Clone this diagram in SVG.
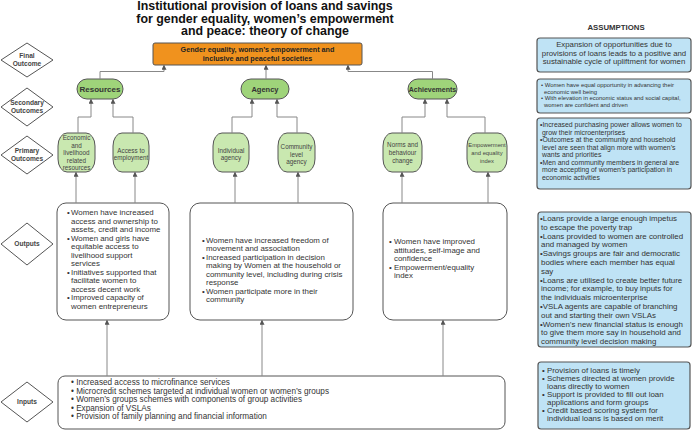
<svg xmlns="http://www.w3.org/2000/svg" width="692" height="432" viewBox="0 0 692 432">
<defs>
<marker id="ah" viewBox="0 0 6 6" refX="5" refY="3" markerWidth="5" markerHeight="5" orient="auto" markerUnits="userSpaceOnUse">
<path d="M0,0 L6,3 L0,6 z" fill="#555"/>
</marker>
<style>
text{font-family:"Liberation Sans",Arial,sans-serif;fill:#333}
.title{font-size:12.4px;font-weight:bold;fill:#111;text-anchor:middle}
.dia{fill:#fff;stroke:#555;stroke-width:1}
.dl{font-size:6.6px;font-weight:bold;fill:#444;text-anchor:middle}
.pill{fill:#9fd47a;stroke:#555;stroke-width:1}
.pl{font-weight:bold;fill:#333;text-anchor:middle}
.prim{fill:#c9e8b0;stroke:#555;stroke-width:1}
.ptx{font-size:6.3px;fill:#444;text-anchor:middle}
.out{fill:#fff;stroke:#555;stroke-width:1}
.ot{font-size:7.9px;fill:#333}
.asm{fill:#bfe3f5;stroke:#555;stroke-width:1.2}
.con{fill:none;stroke:#888;stroke-width:1;marker-end:url(#ah)}
</style>
</defs>
<rect width="692" height="432" fill="#fff"/>
<g id="title">
<text class="title" x="265" y="10">Institutional provision of loans and savings</text>
<text class="title" x="265" y="22.5">for gender equality, women’s empowerment</text>
<text class="title" x="265" y="35">and peace: theory of change</text>
</g>
<text x="616" y="30" style="font-size:7.8px;font-weight:bold;fill:#333;text-anchor:middle">ASSUMPTIONS</text>

<g id="lvl-final"><path class="dia" d="M1,60 L27,43 L53,60 L27,77 z"/><text class="dl" x="27" y="58">Final</text><text class="dl" x="27" y="66">Outcome</text></g>
<g id="lvl-secondary"><path class="dia" d="M1,107 L27,88 L53,107 L27,126 z"/><text class="dl" x="27" y="105">Secondary</text><text class="dl" x="27" y="113">Outcomes</text></g>
<g id="lvl-primary"><path class="dia" d="M1,155 L27,136 L53,155 L27,174 z"/><text class="dl" x="27" y="153">Primary</text><text class="dl" x="27" y="161">Outcomes</text></g>
<g id="lvl-outputs"><path class="dia" d="M1,244 L27,223 L53,244 L27,265 z"/><text class="dl" x="27" y="246">Outputs</text></g>
<g id="lvl-inputs"><path class="dia" d="M1,402 L27,382 L53,402 L27,422 z"/><text class="dl" x="27" y="404">Inputs</text></g>

<g id="final">
<rect x="153" y="43" width="209" height="22" rx="2" fill="#f0921e" stroke="#555" stroke-width="1"/>
<text x="257.5" y="52" style="font-size:7.2px;font-weight:bold;fill:#222;text-anchor:middle">Gender equality, women’s empowerment and</text>
<text x="257.5" y="61" style="font-size:7.2px;font-weight:bold;fill:#222;text-anchor:middle">inclusive and peaceful societies</text>
</g>

<g id="resources"><rect class="pill" x="77" y="79" width="46" height="20" rx="10"/><text class="pl" x="100" y="92" style="font-size:8px">Resources</text></g>
<g id="agency"><rect class="pill" x="241" y="79" width="48" height="20" rx="10"/><text class="pl" x="265" y="92" style="font-size:7.5px">Agency</text></g>
<g id="achievements"><rect class="pill" x="408" y="79" width="49" height="20" rx="10"/><text class="pl" x="432.5" y="91.5" style="font-size:7px">Achievements</text></g>

<g id="p-economic"><rect class="prim" x="58" y="133" width="37" height="39" rx="9" ry="13"/>
<text class="ptx" x="76.5" y="140">Economic</text><text class="ptx" x="76.5" y="147.5">and</text><text class="ptx" x="76.5" y="155">livelihood</text><text class="ptx" x="76.5" y="162.5">related</text><text class="ptx" x="76.5" y="170">resources</text></g>
<g id="p-access"><rect class="prim" x="113" y="133" width="36" height="39" rx="9" ry="13"/>
<text class="ptx" x="131" y="153">Access to</text><text class="ptx" x="131" y="160">employment</text></g>
<g id="p-individual"><rect class="prim" x="213" y="133" width="36" height="39" rx="9" ry="13"/>
<text class="ptx" x="231" y="153">Individual</text><text class="ptx" x="231" y="160">agency</text></g>
<g id="p-community"><rect class="prim" x="278" y="133" width="37" height="39" rx="9" ry="13"/>
<text class="ptx" x="296.5" y="149">Community</text><text class="ptx" x="296.5" y="156.5">level</text><text class="ptx" x="296.5" y="164">agency</text></g>
<g id="p-norms"><rect class="prim" x="383" y="133" width="39" height="39" rx="9" ry="13"/>
<text class="ptx" x="402.5" y="147">Norms and</text><text class="ptx" x="402.5" y="155">behaviour</text><text class="ptx" x="402.5" y="163">change</text></g>
<g id="p-empowerment"><rect class="prim" x="467" y="133" width="40" height="39" rx="9" ry="13"/>
<text class="ptx" x="487" y="147" style="font-size:5.8px">Empowerment</text><text class="ptx" x="487" y="155" style="font-size:5.8px">and equality</text><text class="ptx" x="487" y="163" style="font-size:5.8px">index</text></g>

<g id="out-resources"><rect class="out" x="57" y="203" width="112" height="117" rx="9"/>
<text class="ot" x="67" y="215">•</text><text class="ot" x="71" y="215">Women have increased</text>
<text class="ot" x="71" y="223.5">access and ownership to</text>
<text class="ot" x="71" y="232">assets, credit and income</text>
<text class="ot" x="67" y="240.5">•</text><text class="ot" x="71" y="240.5">Women and girls have</text>
<text class="ot" x="71" y="249">equitable access to</text>
<text class="ot" x="71" y="257.5">livelihood support</text>
<text class="ot" x="71" y="266">services</text>
<text class="ot" x="67" y="274.5">•</text><text class="ot" x="71" y="274.5">Initiatives supported that</text>
<text class="ot" x="71" y="283">facilitate women to</text>
<text class="ot" x="71" y="291.5">access decent work</text>
<text class="ot" x="67" y="300">•</text><text class="ot" x="71" y="300">Improved capacity of</text>
<text class="ot" x="71" y="308.5">women entrepreneurs</text>
</g>
<g id="out-agency"><rect class="out" x="190" y="203" width="163" height="117" rx="10"/>
<text class="ot" x="202" y="242.5">•</text><text class="ot" x="206" y="242.5">Women have increased freedom of</text>
<text class="ot" x="206" y="251">movement and association</text>
<text class="ot" x="202" y="259.5">•</text><text class="ot" x="206" y="259.5">Increased participation in decision</text>
<text class="ot" x="206" y="268">making by Women at the household or</text>
<text class="ot" x="206" y="276.5">community level, including during crisis</text>
<text class="ot" x="206" y="285">response</text>
<text class="ot" x="202" y="293.5">•</text><text class="ot" x="206" y="293.5">Women participate more in their</text>
<text class="ot" x="206" y="302">community</text>
</g>
<g id="out-achievements"><rect class="out" x="383" y="203" width="124" height="117" rx="10"/>
<text class="ot" x="389" y="244">•</text><text class="ot" x="394" y="244">Women have improved</text>
<text class="ot" x="394" y="252.5">attitudes, self-image and</text>
<text class="ot" x="394" y="261">confidence</text>
<text class="ot" x="389" y="269.5">•</text><text class="ot" x="394" y="269.5">Empowerment/equality</text>
<text class="ot" x="394" y="278">index</text>
</g>

<g id="inputs"><rect class="out" x="58" y="376" width="447" height="53" rx="7"/>
<text class="ot" x="71" y="385" style="font-size:8.2px">•  Increased access to microfinance services</text>
<text class="ot" x="71" y="393.5" style="font-size:8.2px">•  Microcredit schemes targeted at individual women or women’s groups</text>
<text class="ot" x="71" y="402" style="font-size:8.2px">•  Women’s groups schemes with components of group activities</text>
<text class="ot" x="71" y="410.5" style="font-size:8.2px">•  Expansion of VSLAs</text>
<text class="ot" x="71" y="419" style="font-size:8.2px">•  Provision of family planning and financial information</text>
</g>

<g id="assumption-final"><rect class="asm" x="537" y="38" width="154" height="34" rx="3"/>
<text x="614" y="47" style="font-size:7.8px;text-anchor:middle">Expansion of opportunities due to</text>
<text x="614" y="55.5" style="font-size:7.8px;text-anchor:middle">provisions of loans leads to a positive and</text>
<text x="614" y="64" style="font-size:7.8px;text-anchor:middle">sustainable cycle of upliftment for women</text>
</g>
<g id="assumption-secondary"><rect class="asm" x="537" y="79" width="154" height="34" rx="3"/>
<text x="541" y="87" style="font-size:5.9px">•  Women have equal opportunity in advancing their</text>
<text x="544" y="93.5" style="font-size:5.9px">economic well being</text>
<text x="541" y="100" style="font-size:5.9px">•  With elevation in economic status and social capital,</text>
<text x="544" y="106.5" style="font-size:5.9px">women are confident and driven</text>
</g>
<g id="assumption-primary"><rect class="asm" x="537" y="118" width="154" height="71" rx="3"/>
<text x="540" y="127" style="font-size:6.9px">•Increased purchasing power allows women to</text>
<text x="542" y="134.5" style="font-size:6.9px">grow their microenterprises</text>
<text x="540" y="142" style="font-size:6.9px">•Outcomes at the community and household</text>
<text x="542" y="149.5" style="font-size:6.9px">level are seen that align more with women’s</text>
<text x="542" y="157" style="font-size:6.9px">wants and priorities</text>
<text x="540" y="164.5" style="font-size:6.9px">•Men and community members in general are</text>
<text x="542" y="172" style="font-size:6.9px">more accepting of women’s participation in</text>
<text x="542" y="179.5" style="font-size:6.9px">economic activities</text>
</g>
<g id="assumption-outputs"><rect class="asm" x="538" y="212" width="153" height="135" rx="3"/>
<text x="540" y="221" style="font-size:7.9px">•Loans provide a large enough impetus</text>
<text x="541" y="229.8" style="font-size:7.9px">to escape the poverty trap</text>
<text x="540" y="238.6" style="font-size:7.9px">•Loans provided to women are controlled</text>
<text x="541" y="247.4" style="font-size:7.9px">and managed by women</text>
<text x="540" y="256.2" style="font-size:7.9px">•Savings groups are fair and democratic</text>
<text x="541" y="265" style="font-size:7.9px">bodies where each member has equal</text>
<text x="541" y="273.8" style="font-size:7.9px">say</text>
<text x="540" y="282.6" style="font-size:7.9px">•Loans are utilised to create better future</text>
<text x="541" y="291.4" style="font-size:7.9px">income; for example, to buy inputs for</text>
<text x="541" y="300.2" style="font-size:7.9px">the individuals microenterprise</text>
<text x="540" y="309" style="font-size:7.9px">•VSLA agents are capable of branching</text>
<text x="541" y="317.8" style="font-size:7.9px">out and starting their own VSLAs</text>
<text x="540" y="326.6" style="font-size:7.9px">•Women’s new financial status is enough</text>
<text x="541" y="335.4" style="font-size:7.9px">to give them more say in household and</text>
<text x="541" y="344.2" style="font-size:7.9px">community level decision making</text>
</g>
<g id="assumption-inputs"><rect class="asm" x="538" y="362" width="152" height="67" rx="3"/>
<text x="542" y="373" style="font-size:7.9px">•  Provision of loans is timely</text>
<text x="542" y="381" style="font-size:7.9px">•  Schemes directed at women provide</text>
<text x="547" y="389" style="font-size:7.9px">loans directly to women</text>
<text x="542" y="397" style="font-size:7.9px">•  Support is provided to fill out loan</text>
<text x="547" y="405" style="font-size:7.9px">applications and form groups</text>
<text x="542" y="413" style="font-size:7.9px">•  Credit based scoring system for</text>
<text x="547" y="421" style="font-size:7.9px">individual loans is based on merit</text>
</g>

<g id="connectors">
<path class="con" d="M100,79 V71.5 H164 V65.5"/>
<path class="con" d="M266,79 V65.5"/>
<path class="con" d="M432.5,79 V71.5 H348 V65.5"/>
<path class="con" d="M78,133 V117 H91 V99.5"/>
<path class="con" d="M133,133 V117 H113 V99.5"/>
<path class="con" d="M232,133 V117 H252 V99.5"/>
<path class="con" d="M297,133 V117 H277 V99.5"/>
<path class="con" d="M402,133 V117 H425 V99.5"/>
<path class="con" d="M485,133 V117 H447 V99.5"/>
<path class="con" d="M76,203 V172.5"/>
<path class="con" d="M135,203 V172.5"/>
<path class="con" d="M235,203 V172.5"/>
<path class="con" d="M298,203 V172.5"/>
<path class="con" d="M402,203 V172.5"/>
<path class="con" d="M488,203 V172.5"/>
<path class="con" d="M107,376 V320.5"/>
<path class="con" d="M262,376 V320.5"/>
<path class="con" d="M443,376 V320.5"/>
</g>
</svg>
